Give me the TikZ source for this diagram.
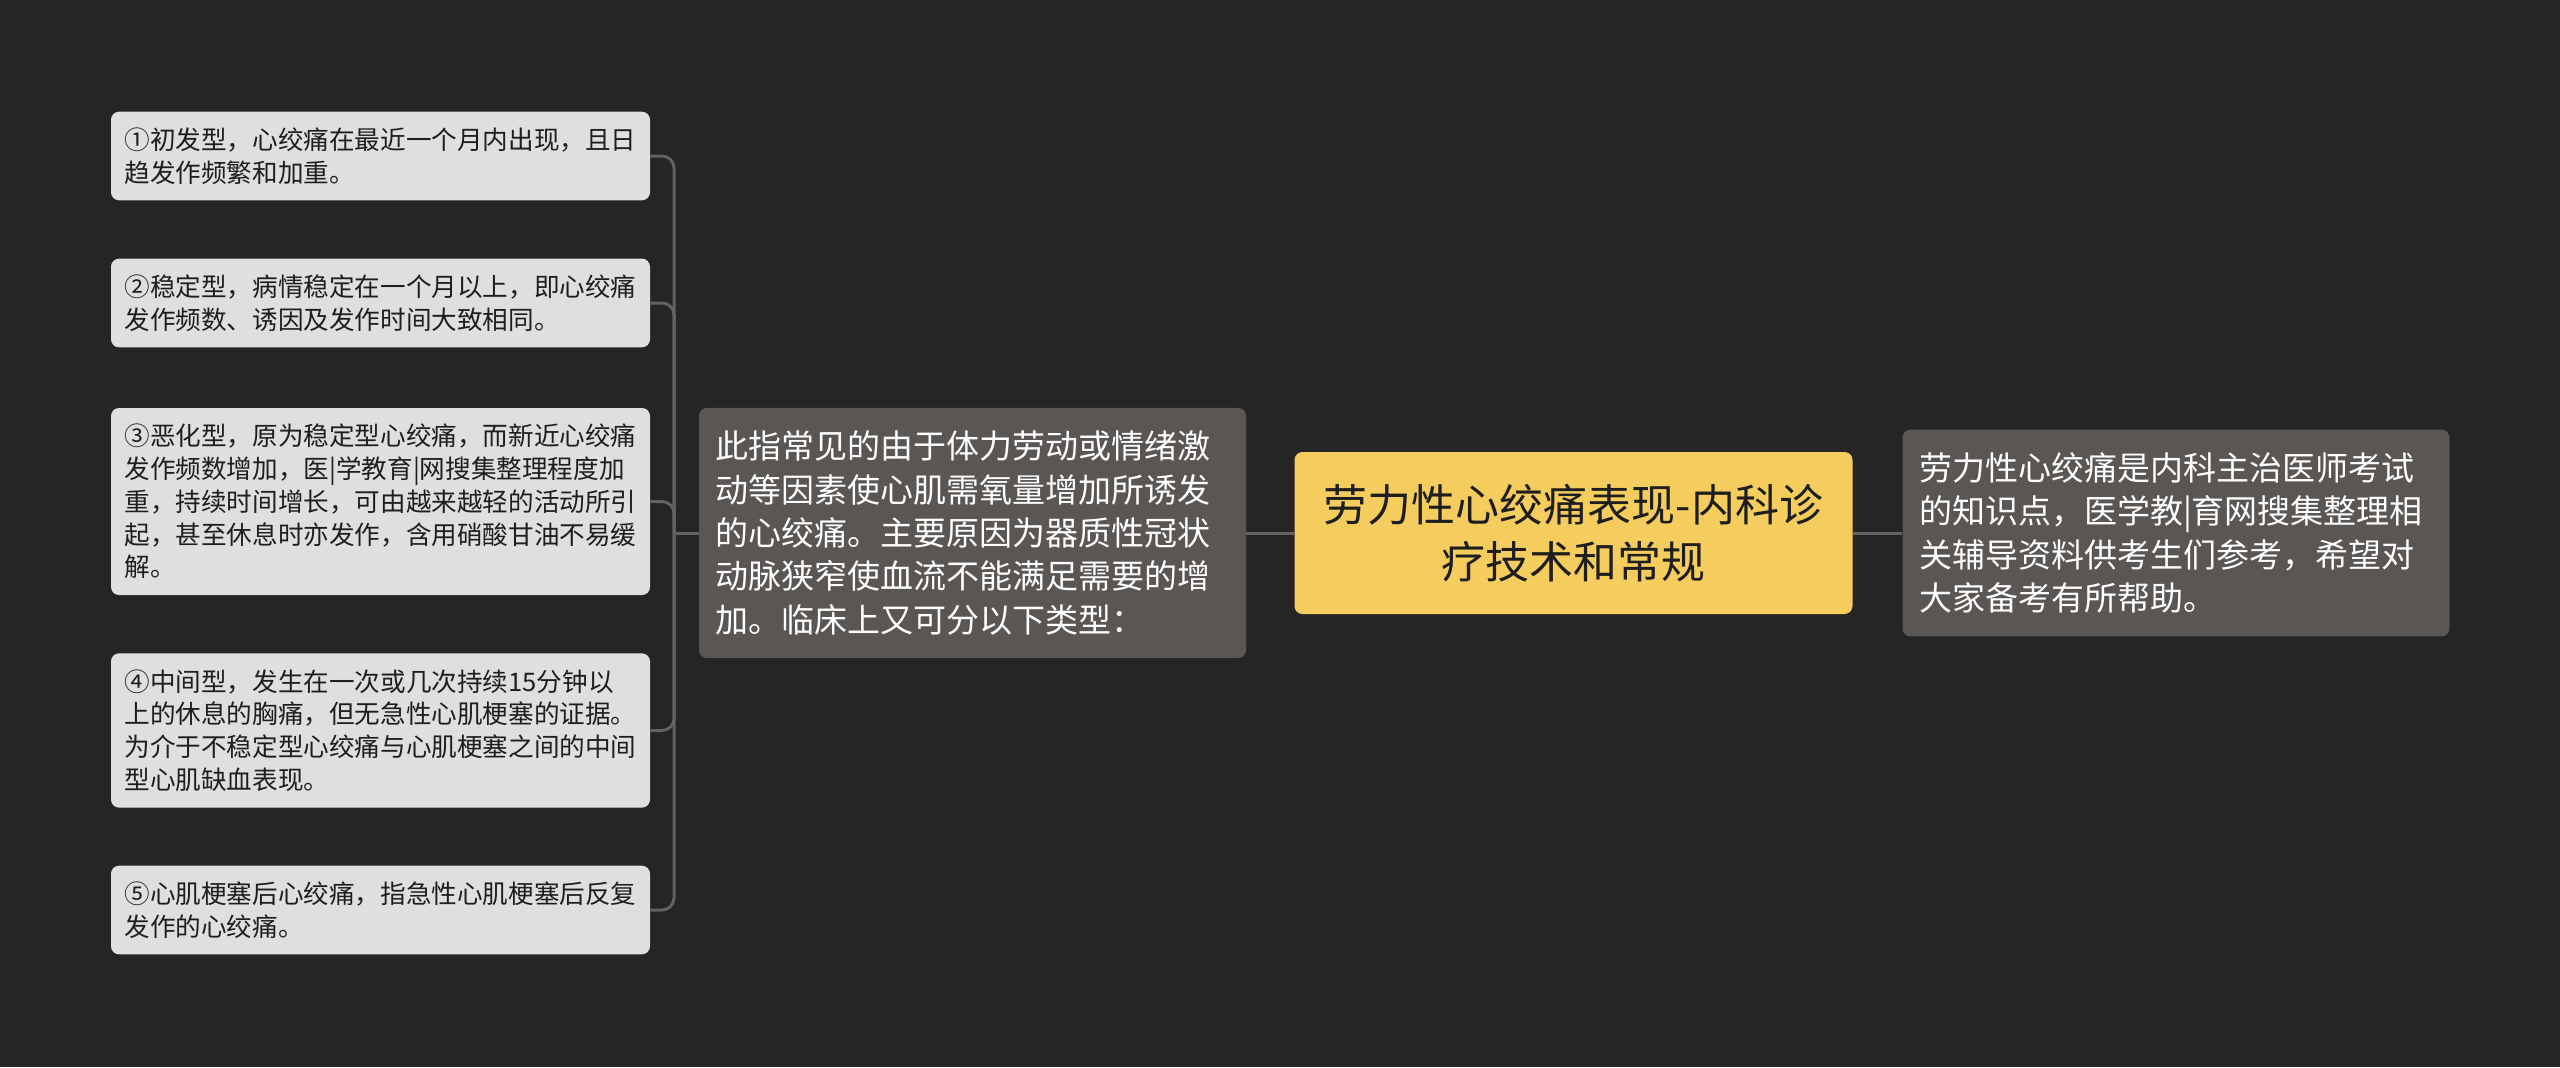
\documentclass[tikz,border=0pt]{standalone}
\usepackage{fontspec}
\setmainfont{Noto Sans CJK SC}
\usetikzlibrary{positioning}

\definecolor{bgdark}{HTML}{252525}
\definecolor{leafgray}{HTML}{DFDFDF}
\definecolor{notegray}{HTML}{595654}
\definecolor{rootyellow}{HTML}{F5CC5E}
\definecolor{linegray}{HTML}{626262}
\definecolor{inkdark}{HTML}{1E1E1E}

\tikzset{
    leafbox/.style={fill=leafgray,text=inkdark,rounded corners=4pt,align=left,text width=256pt,inner xsep=6.75pt,inner ysep=8pt,font=\fontsize{12.8pt}{16.4pt}\selectfont},
    notebox/.style={fill=notegray,text=white,rounded corners=4pt,align=left,text width=257pt,inner xsep=8.25pt,inner ysep=11.5pt,font=\fontsize{16.5pt}{21.7pt}\selectfont},
    rootbox/.style={fill=rootyellow,text=inkdark,rounded corners=4pt,align=center,minimum width=279pt,minimum height=81pt,inner sep=0pt,font=\fontsize{22pt}{28.3pt}\selectfont},
    branchline/.style={draw=linegray,line width=1.5pt,rounded corners=6pt}
}

\begin{document}
\begin{tikzpicture}[x=0.5pt,y=-0.5pt]
    \fill[bgdark] (0,0) rectangle (2560,1067);
    \useasboundingbox (0,0) rectangle (2560,1067);
    \node[rootbox] (root) at (1573.5,533) {劳力性心绞痛表现-内科诊\\疗技术和常规};
    \node[notebox] (cause) at (972.5,533) {此指常见的由于体力劳动或情绪激\\动等因素使心肌需氧量增加所诱发\\的心绞痛。主要原因为器质性冠状\\动脉狭窄使血流不能满足需要的增\\加。临床上又可分以下类型：};
    \node[notebox] (note) at (2176,533) {劳力性心绞痛是内科主治医师考试\\的知识点，医学教|育网搜集整理相\\关辅导资料供考生们参考，希望对\\大家备考有所帮助。};
    \node[leafbox] (onset) at (380.5,156) {①初发型，心绞痛在最近一个月内出现，且日\\趋发作频繁和加重。};
    \node[leafbox] (stable) at (380.5,303) {②稳定型，病情稳定在一个月以上，即心绞痛\\发作频数、诱因及发作时间大致相同。};
    \node[leafbox] (worse) at (380.5,501.5) {③恶化型，原为稳定型心绞痛，而新近心绞痛\\发作频数增加，医|学教育|网搜集整理程度加\\重，持续时间增长，可由越来越轻的活动所引\\起，甚至休息时亦发作，含用硝酸甘油不易缓\\解。};
    \node[leafbox] (middle) at (380.5,730.5) {④中间型，发生在一次或几次持续15分钟以\\上的休息的胸痛，但无急性心肌梗塞的证据。\\为介于不稳定型心绞痛与心肌梗塞之间的中间\\型心肌缺血表现。};
    \node[leafbox] (postmi) at (380.5,910) {⑤心肌梗塞后心绞痛，指急性心肌梗塞后反复\\发作的心绞痛。};
    \coordinate (fork) at (674,533);
    \draw[branchline] (root.west) -- (cause.east);
    \draw[branchline] (root.east) -- (note.west);
    \draw[branchline] (cause.west) -- (fork);
    \foreach \leaf in {onset,stable,worse,middle,postmi}
        \draw[branchline] (fork) |- (\leaf.east);
\end{tikzpicture}
\end{document}
